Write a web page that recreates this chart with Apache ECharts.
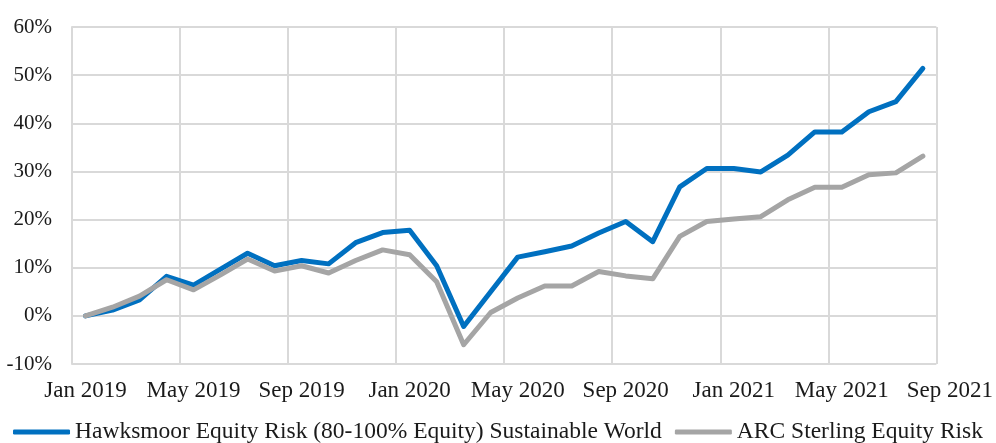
<!DOCTYPE html>
<html><head><meta charset="utf-8">
<script src="https://cdn.jsdelivr.net/npm/echarts@6/dist/echarts.min.js"></script>
<style>html,body{margin:0;padding:0;background:#fff}#c{width:996px;height:443px}</style>
</head><body><div id="c"></div>
<script>
const months = ["Jan 2019","Feb 2019","Mar 2019","Apr 2019","May 2019","Jun 2019","Jul 2019","Aug 2019","Sep 2019","Oct 2019","Nov 2019","Dec 2019",
"Jan 2020","Feb 2020","Mar 2020","Apr 2020","May 2020","Jun 2020","Jul 2020","Aug 2020","Sep 2020","Oct 2020","Nov 2020","Dec 2020",
"Jan 2021","Feb 2021","Mar 2021","Apr 2021","May 2021","Jun 2021","Jul 2021","Aug 2021"];
const tickLabels = ["Jan 2019","May 2019","Sep 2019","Jan 2020","May 2020","Sep 2020","Jan 2021","May 2021","Sep 2021"];
const hawksmoor = [0,1.2,3.3,8.2,6.4,9.7,13.0,10.4,11.5,10.8,15.2,17.3,17.8,10.4,-2.2,5.0,12.2,13.3,14.5,17.2,19.6,15.4,26.8,30.6,30.6,29.9,33.4,38.2,38.2,42.4,44.5,51.4];
const arc = [0,1.8,4.1,7.5,5.4,8.5,11.8,9.3,10.4,8.9,11.5,13.7,12.7,7.1,-6.0,0.7,3.7,6.2,6.2,9.2,8.3,7.7,16.5,19.6,20.1,20.6,24.1,26.7,26.7,29.3,29.7,33.2];
const seriesNames = ["Hawksmoor Equity Risk (80-100% Equity) Sustainable World","ARC Sterling Equity Risk"];

const FONT = "Liberation Serif";
const chart = echarts.init(document.getElementById('c'), null, {renderer:'canvas'});
const toPts = arr => arr.map((v,i)=>[i+0.5, v]);
chart.setOption({
  animation:false,
  grid:{left:72,right:56,top:27,bottom:79,containLabel:false},
  xAxis:{type:'value',min:0,max:months.length,interval:4,
    axisLine:{show:false},axisTick:{show:false},
    splitLine:{show:true,lineStyle:{color:'#d9d9d9',width:2}},
    axisLabel:{margin:15,color:'#1a1a1a',fontFamily:FONT,fontSize:23,showMaxLabel:true,showMinLabel:true,
      formatter:v=>'{s|'+tickLabels[Math.round(v/4)]+'}',
      rich:{s:{padding:[0,0,0,27],fontFamily:FONT,fontSize:23,color:'#1a1a1a'}}}},
  yAxis:{type:'value',min:-10,max:60,interval:10,
    axisLine:{show:true,lineStyle:{color:'#d9d9d9',width:2}},axisTick:{show:false},
    splitLine:{show:true,lineStyle:{color:'#d9d9d9',width:2}},
    axisLabel:{margin:20,color:'#1a1a1a',fontFamily:FONT,fontSize:21,formatter:v=>v+'%'}},
  legend:{top:420,left:'center',width:996,padding:0,itemWidth:57,itemHeight:5,itemGap:13,icon:'roundRect',
    textStyle:{fontFamily:FONT,fontSize:23.5,color:'#1a1a1a'},
    data:seriesNames},
  series:[
    {name:seriesNames[0],type:'line',data:toPts(hawksmoor),symbol:'none',color:'#0070c0',
     lineStyle:{width:5,color:'#0070c0',cap:'round',join:'round'}},
    {name:seriesNames[1],type:'line',data:toPts(arc),symbol:'none',color:'#a5a5a5',
     lineStyle:{width:5,color:'#a5a5a5',cap:'round',join:'round'}}
  ]
});
</script></body></html>
